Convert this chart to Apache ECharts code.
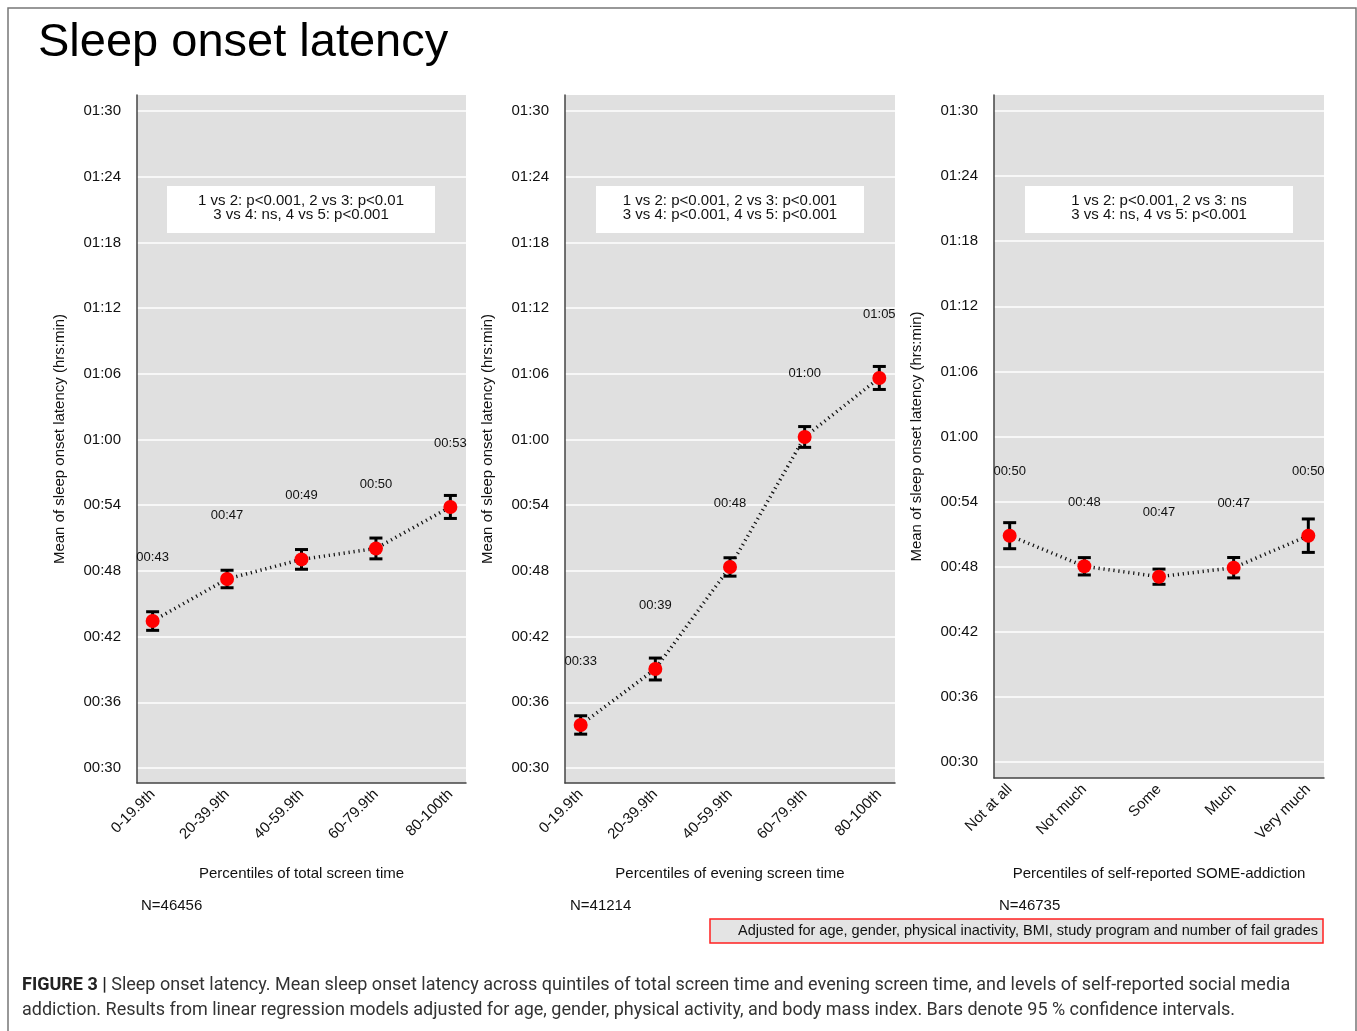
<!DOCTYPE html>
<html>
<head>
<meta charset="utf-8">
<script src="https://cdn.jsdelivr.net/npm/echarts@6/dist/echarts.min.js"></script>
<style>html,body{margin:0;padding:0;background:#fff;}#chart{width:1357px;height:1031px;}</style>
</head>
<body>
<div id="chart"></div>
<script>
// ---- data (minutes) ----
const catsTotal = ['0-19.9th', '20-39.9th', '40-59.9th', '60-79.9th', '80-100th'];
const catsEvening = ['0-19.9th', '20-39.9th', '40-59.9th', '60-79.9th', '80-100th'];
const catsSome = ['Not at all', 'Not much', 'Some', 'Much', 'Very much'];

const totalMean = [43.42, 47.26, 49.05, 50.05, 53.84];
const totalLow = [42.57, 46.46, 48.15, 49.10, 52.79];
const totalHigh = [44.27, 48.06, 49.95, 51.00, 54.89];

const eveningMean = [33.93, 39.04, 48.36, 60.23, 65.62];
const eveningLow = [33.09, 38.04, 47.52, 59.28, 64.57];
const eveningHigh = [34.77, 40.04, 49.20, 61.18, 66.67];

const someMean = [50.86, 48.04, 47.08, 47.91, 50.86];
const someLow = [49.66, 47.24, 46.38, 46.97, 49.32];
const someHigh = [52.06, 48.84, 47.78, 48.85, 52.40];

const yTicks = [30, 36, 42, 48, 54, 60, 66, 72, 78, 84, 90];
const xPos = [1, 2, 3, 4, 5];

const panelTitlesX = ['Percentiles of total screen time', 'Percentiles of evening screen time', 'Percentiles of self-reported SOME-addiction'];
const nLabels = ['N=46456', 'N=41214', 'N=46735'];
const pTexts = [
  '1 vs 2: p<0.001, 2 vs 3: p<0.01\n3 vs 4: ns, 4 vs 5: p<0.001',
  '1 vs 2: p<0.001, 2 vs 3: p<0.001\n3 vs 4: p<0.001, 4 vs 5: p<0.001',
  '1 vs 2: p<0.001, 2 vs 3: ns\n3 vs 4: ns, 4 vs 5: p<0.001'
];
const yTitle = 'Mean of sleep onset latency (hrs:min)';

// ---- helpers ----
const FONT = '"Liberation Sans", Arial, sans-serif';
function fmtHM(m) {
  const t = Math.floor(m + 1e-9);
  const h = Math.floor(t / 60), mm = t % 60;
  return String(h).padStart(2, '0') + ':' + String(mm).padStart(2, '0');
}
function errRender(params, api) {
  const x = api.value(0), lo = api.value(1), hi = api.value(2);
  const a = api.coord([x, lo]), b = api.coord([x, hi]);
  const w = 6.5;
  const style = { stroke: '#000', lineWidth: 3 };
  return {
    type: 'group',
    children: [
      { type: 'line', shape: { x1: a[0], y1: a[1], x2: b[0], y2: b[1] }, style },
      { type: 'line', shape: { x1: a[0] - w, y1: a[1], x2: a[0] + w, y2: a[1] }, style },
      { type: 'line', shape: { x1: b[0] - w, y1: b[1], x2: b[0] + w, y2: b[1] }, style }
    ]
  };
}

const panels = [
  { cats: catsTotal, mean: totalMean, low: totalLow, high: totalHigh, grid: { left: 137, top: 95, width: 329, height: 688 }, yMin: 28.63, yMax: 91.46, nameGapX: 83 },
  { cats: catsEvening, mean: eveningMean, low: eveningLow, high: eveningHigh, grid: { left: 565, top: 95, width: 330, height: 688 }, yMin: 28.63, yMax: 91.46, nameGapX: 83 },
  { cats: catsSome, mean: someMean, low: someLow, high: someHigh, grid: { left: 994, top: 95, width: 330, height: 683 }, yMin: 28.53, yMax: 91.47, nameGapX: 88 }
];

const grids = [], xAxes = [], yAxes = [], series = [];
panels.forEach((p, i) => {
  grids.push(Object.assign({ show: true, backgroundColor: '#E0E0E0', borderWidth: 0 }, p.grid));
  xAxes.push({
    type: 'value', gridIndex: i, min: 0.79, max: 5.21,
    name: panelTitlesX[i], nameLocation: 'middle', nameGap: p.nameGapX,
    nameTextStyle: { fontFamily: FONT, fontSize: 15, color: '#111' },
    axisLine: { show: true, lineStyle: { color: '#444', width: 1.5 } },
    axisTick: { show: false, customValues: xPos },
    splitLine: { show: false },
    axisLabel: {
      customValues: xPos, rotate: 45, margin: 9,
      fontFamily: FONT, fontSize: 15, color: '#111',
      formatter: (v) => p.cats[Math.round(v) - 1]
    }
  });
  yAxes.push({
    type: 'value', gridIndex: i, min: p.yMin, max: p.yMax,
    name: yTitle, nameLocation: 'middle', nameGap: 70,
    nameTextStyle: { fontFamily: FONT, fontSize: 15, color: '#111' },
    axisLine: { show: true, lineStyle: { color: '#444', width: 1.5 } },
    axisTick: { show: false, customValues: yTicks },
    splitLine: { show: true, lineStyle: { color: '#FFFFFF', width: 1.5 } },
    axisLabel: {
      customValues: yTicks, margin: 16,
      fontFamily: FONT, fontSize: 15, color: '#111',
      formatter: (v) => fmtHM(v)
    }
  });
  const pts = p.mean.map((m, k) => [xPos[k], m]);
  series.push({
    type: 'line', xAxisIndex: i, yAxisIndex: i, data: pts,
    symbol: 'none', silent: true, z: 2,
    lineStyle: { color: '#111', width: 3.5, type: [1.2, 3.8] }
  });
  series.push({
    type: 'custom', xAxisIndex: i, yAxisIndex: i, z: 3, silent: true,
    data: p.mean.map((m, k) => [xPos[k], p.low[k], p.high[k]]),
    renderItem: errRender
  });
  series.push({
    type: 'scatter', xAxisIndex: i, yAxisIndex: i, z: 4, data: pts,
    symbolSize: 14, itemStyle: { color: '#FF0000', opacity: 1 },
    label: {
      show: true, position: 'inside', offset: [0, -64],
      fontFamily: FONT, fontSize: 13, color: '#111',
      formatter: (d) => fmtHM(d.value[1])
    }
  });
});

const graphics = [
  { type: 'rect', shape: { x: 8, y: 8, width: 1348, height: 1040 }, style: { fill: 'none', stroke: '#777', lineWidth: 1.5 }, silent: true },
  { type: 'text', x: 38, y: 43, style: { text: 'Sleep onset latency', font: '47px ' + FONT, fill: '#000', textVerticalAlign: 'middle' } }
];
const boxLeft = [167, 596, 1025];
const centersX = [301, 730, 1159];
const nX = [141, 570, 999];
for (let i = 0; i < 3; i++) {
  graphics.push({ type: 'rect', shape: { x: boxLeft[i], y: 186, width: 268, height: 47 }, style: { fill: '#FFFFFF' }, z: 10 });
  graphics.push({ type: 'text', x: centersX[i], y: 208, z: 11, style: { text: pTexts[i], font: '15px ' + FONT, lineHeight: 14, fill: '#111', textAlign: 'center', textVerticalAlign: 'middle' } });
  graphics.push({ type: 'text', x: nX[i], y: 906, style: { text: nLabels[i], font: '15px ' + FONT, fill: '#111', textVerticalAlign: 'middle' } });
}
graphics.push({ type: 'rect', shape: { x: 710, y: 919, width: 613, height: 24 }, style: { fill: '#E4E4E4', stroke: '#FF2020', lineWidth: 1.5 } });
graphics.push({ type: 'text', x: 1318, y: 931, style: { text: 'Adjusted for age, gender, physical inactivity, BMI, study program and number of fail grades', font: '14.5px ' + FONT, fill: '#111', textAlign: 'right', textVerticalAlign: 'middle' } });
graphics.push({
  type: 'text', x: 22, y: 998,
  style: {
    text: '{b|FIGURE 3 |} Sleep onset latency. Mean sleep onset latency across quintiles of total screen time and evening screen time, and levels of self-reported social media\naddiction. Results from linear regression models adjusted for age, gender, physical activity, and body mass index. Bars denote 95 % confidence intervals.',
    font: '18px Roboto, ' + FONT, fill: '#333', lineHeight: 25, textVerticalAlign: 'middle',
    rich: { b: { fontWeight: 'bold', fontFamily: 'Roboto', fontSize: 18, fill: '#222' } }
  }
});

const chart = echarts.init(document.getElementById('chart'), null, { renderer: 'canvas' });
chart.setOption({
  animation: false,
  backgroundColor: '#FFFFFF',
  grid: grids, xAxis: xAxes, yAxis: yAxes, series: series,
  graphic: graphics
});
</script>
</body>
</html>
